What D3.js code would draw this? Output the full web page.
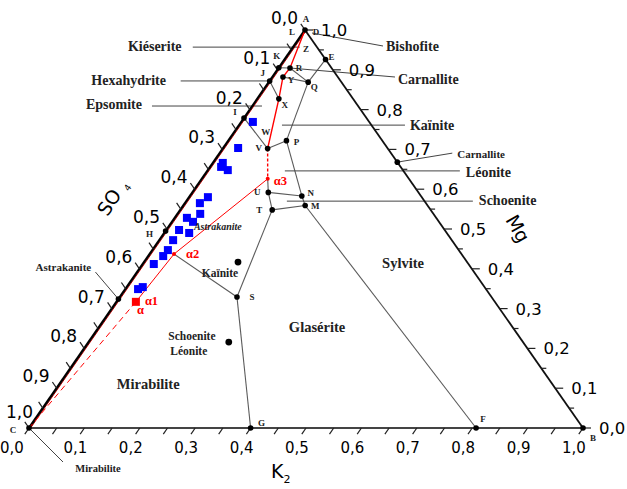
<!DOCTYPE html>
<html>
<head>
<meta charset="utf-8">
<script src="https://cdn.jsdelivr.net/npm/d3@7"></script>
<style>
  body { margin: 0; background: #fff; }
  .lbl { font-family: "Liberation Serif", serif; font-weight: bold; }
  .tick { font-family: "DejaVu Sans", sans-serif; }
</style>
</head>
<body>
<div id="chart"></div>
<script>
// Axis ticks (same labels on all three sides)
const tickValues = [0, 0.1, 0.2, 0.3, 0.4, 0.5, 0.6, 0.7, 0.8, 0.9, 1.0];
const tickLabels = ["0,0", "0,1", "0,2", "0,3", "0,4", "0,5", "0,6", "0,7", "0,8", "0,9", "1,0"];
const minorTicks = [0.05, 0.15, 0.25, 0.35, 0.45, 0.55, 0.65, 0.75, 0.85, 0.95];

// Invariant points, read as (K2, Mg) fractions
const pointNames = ["A", "K", "J", "I", "H", "E", "R", "Y", "Q", "X", "V", "P", "U", "N", "T", "M", "S", "G", "F", "C", "B"];
const pointK = [0, 0, 0, 0, 0, 0.074, 0.0205, 0.019, 0.071, 0.039, 0.081, 0.105, 0.137, 0.202, 0.166, 0.220, 0.2115, 0.40, 0.807, 0, 1];
const pointM = [1, 0.905, 0.872, 0.779, 0.495, 0.926, 0.9045, 0.882, 0.869, 0.827, 0.702, 0.722, 0.592, 0.583, 0.548, 0.559, 0.329, 0, 0, 0, 0];

// Evaporation points (red)
const alphaNames = ["α1", "α2", "α3"];
const alphaK = [0.035, 0.044, 0.119];
const alphaM = [0.317, 0.437, 0.626];

// Salt composition points
const saltNames = ["Astrakanite", "Kaïnite", "SchoeniteLéonite", "Carnallite"];
const saltK = [0, 0.1695, 0.253, 0.332];
const saltM = [0.324, 0.417, 0.216, 0.668];

// Experimental points (blue squares)
const sampleK = [0.021, 0.027, 0.018, 0.020, 0.036, 0.034, 0.027, 0.041, 0.022, 0.038, 0.023, 0.045, 0.025, 0.028, 0.027, 0.020, 0.029, 0.023];
const sampleM = [0.769, 0.7035, 0.666, 0.656, 0.648, 0.580, 0.565, 0.538, 0.528, 0.518, 0.4975, 0.490, 0.472, 0.447, 0.432, 0.412, 0.354, 0.349];

// Field boundaries
const boundaries = [["E", "Q"], ["R", "Q"], ["K", "R"], ["Y", "Q"], ["J", "X"], ["Q", "P"], ["I", "V"], ["V", "P"],
  ["P", "N"], ["N", "M"], ["M", "F"], ["N", "U"], ["M", "T"], ["U", "T"], ["T", "S"], ["S", "G"], ["S", "α2"], ["α3", "U"]];

// Crystallisation path
const pathSolid = ["A", "R", "Y", "X", "V"];
const pathDotted = ["V", "α3"];
const pathThin = ["α3", "α2", "α1"];
const pathDashed = ["α1", "C"];

// Leader-line labels and their anchor in (K2, Mg)
const leaderNames = ["Kiéserite", "Hexahydrite", "Epsomite", "Bishofite", "Carnallite", "Kaïnite", "Carnallite", "Léonite", "Schoenite", "Astrakanite", "Mirabilite"];
const leaderK = [0.012, 0, 0.0175, 0, 0.0205, 0.0775, 0.332, 0.140, 0.1815, 0, 0];
const leaderM = [0.957, 0.872, 0.809, 1, 0.9045, 0.761, 0.668, 0.646, 0.570, 0.324, 0];

// Field names
const fieldNames = ["Sylvite", "Glasérite", "Mirabilite", "Kaïnite", "Schoenite", "Léonite"];
const fieldK = [0.4686, 0.3935, 0.16, 0.151, 0.179, 0.192];
const fieldM = [0.4146, 0.2538, 0.1106, 0.389, 0.231, 0.1935];

const width = 627, height = 489;
const svg = d3.select("#chart").append("svg")
  .attr("width", width).attr("height", height);

// ternary projection (triangle is not equilateral in the picture)
const origin = { x: 29, y: 428 };
const kScale = d3.scaleLinear().domain([0, 1]).range([0, 554]);
const mRise = d3.scaleLinear().domain([0, 1]).range([0, 398]);
const mLean = d3.scaleLinear().domain([0, 1]).range([0, 276]);
const pos = (k, m) => [origin.x + kScale(k) + mLean(m), origin.y - mRise(m)];

const pts = {};
pointNames.forEach((n, i) => pts[n] = pos(pointK[i], pointM[i]));
alphaNames.forEach((n, i) => pts[n] = pos(alphaK[i], alphaM[i]));

const line = d3.line();

// boundaries
svg.append("g").selectAll("path").data(boundaries).enter().append("path")
  .attr("d", d => line(d.map(n => pts[n])))
  .attr("fill", "none").attr("stroke", "#5a5a5a").attr("stroke-width", 1.1);

// leader lines + labels
const leaderLayout = [
  { s: [0, 0], e: [-107, 0], t: [-145, 4], a: "middle", f: 14 },
  { s: [0, 0], e: [-89, 0], t: [-141, 4], a: "middle", f: 14 },
  { s: [0, 0], e: [-110, 0], t: [-148, 3], a: "middle", f: 14 },
  { s: [7, 3], e: [78, 16], t: [81, 21], a: "start", f: 14 },
  { s: [0, 0], e: [105, 9], t: [108, 16], a: "start", f: 14 },
  { s: [0, 0], e: [123, 0], t: [128, 5], a: "start", f: 14 },
  { s: [0, 0], e: [55, -9], t: [60, -4], a: "start", f: 11 },
  { s: [0, 0], e: [175, 0], t: [181, 6], a: "start", f: 14 },
  { s: [0, 0], e: [186, 0], t: [192, 4], a: "start", f: 14 },
  { s: [0, 0], e: [-23, -27], t: [-55, -28], a: "middle", f: 11 },
  { s: [0, 0], e: [34, 34], t: [69, 44], a: "middle", f: 10.5 }
];
leaderNames.forEach((name, i) => {
  const p = pos(leaderK[i], leaderM[i]);
  const L = leaderLayout[i];
  svg.append("line")
    .attr("x1", p[0] + L.s[0]).attr("y1", p[1] + L.s[1])
    .attr("x2", p[0] + L.e[0]).attr("y2", p[1] + L.e[1])
    .attr("stroke", "#444").attr("stroke-width", 1);
  svg.append("text").attr("class", "lbl")
    .attr("x", p[0] + L.t[0]).attr("y", p[1] + L.t[1])
    .attr("text-anchor", L.a).attr("font-size", L.f)
    .attr("fill", "#222").text(name);
});

// triangle edges
const A = pos(0, 1), B = pos(1, 0), C = pos(0, 0);
svg.append("line").attr("x1", C[0]).attr("y1", C[1]).attr("x2", B[0]).attr("y2", B[1])
  .attr("stroke", "#444").attr("stroke-width", 2);
svg.append("line").attr("x1", A[0]).attr("y1", A[1]).attr("x2", B[0]).attr("y2", B[1])
  .attr("stroke", "#111").attr("stroke-width", 1.8);
svg.append("line").attr("x1", C[0] + 1.6).attr("y1", C[1]).attr("x2", A[0] + 1.6).attr("y2", A[1])
  .attr("stroke", "#d00").attr("stroke-width", 1);
svg.append("line").attr("x1", C[0]).attr("y1", C[1]).attr("x2", A[0]).attr("y2", A[1])
  .attr("stroke", "#000").attr("stroke-width", 2.3);

// ticks
const allTicks = tickValues.concat(minorTicks);
const ticks = svg.append("g").attr("stroke", "#222").attr("stroke-width", 1.2);
allTicks.forEach(v => {
  const b = pos(v, 0);
  ticks.append("line").attr("x1", b[0]).attr("y1", b[1]).attr("x2", b[0] - 4.2).attr("y2", b[1] + 6.2);
  const l = pos(0, 1 - v);
  ticks.append("line").attr("x1", l[0]).attr("y1", l[1]).attr("x2", l[0] - 4.2).attr("y2", l[1] - 6.2);
  const r = pos(1 - v, v);
  const len = minorTicks.includes(v) ? 5 : 8;
  ticks.append("line").attr("x1", r[0]).attr("y1", r[1]).attr("x2", r[0] + len).attr("y2", r[1]);
});
tickValues.forEach((v, i) => {
  const b = pos(v, 0);
  svg.append("text").attr("class", "tick").attr("font-size", 15)
    .attr("x", b[0] - (i === 0 ? 17 : 9)).attr("y", b[1] + 25)
    .attr("text-anchor", "middle").text(tickLabels[i]);
  const l = pos(0, 1 - v);
  const last = i === tickValues.length - 1;
  svg.append("text").attr("class", "tick").attr("font-size", 17)
    .attr("x", last ? l[0] + 4 : l[0] - 7).attr("y", last ? l[1] - 10 : l[1] - 6)
    .attr("text-anchor", "end").text(tickLabels[i]);
  const r = pos(1 - v, v);
  svg.append("text").attr("class", "tick").attr("font-size", 16.5)
    .attr("x", r[0] + 16).attr("y", r[1] + 6)
    .attr("text-anchor", "start").text(tickLabels[i]);
});

// axis titles
svg.append("text").attr("class", "tick").attr("font-size", 19)
  .attr("transform", "translate(118,201) rotate(-57)")
  .attr("text-anchor", "middle")
  .text("SO").append("tspan").attr("font-size", 9).attr("dx", 6).attr("dy", 4).text("4");
svg.append("text").attr("class", "tick").attr("font-size", 19)
  .attr("transform", "translate(512,232) rotate(60)")
  .attr("text-anchor", "middle").text("Mg");
svg.append("text").attr("class", "tick").attr("font-size", 19)
  .attr("x", 271).attr("y", 478).text("K")
  .append("tspan").attr("font-size", 11).attr("dy", 5).text("2");

// crystallisation path
const redPath = (names, w, dash) => svg.append("path")
  .attr("d", line(names.map(n => pts[n])))
  .attr("fill", "none").attr("stroke", "#f00").attr("stroke-width", w)
  .attr("stroke-dasharray", dash);
redPath(pathSolid, 1.4, null);
redPath(pathDotted, 1.4, "3,2");
redPath(pathThin, 1, null);
redPath(pathDashed, 1, "6,4");

// field names
fieldNames.forEach((name, i) => {
  const p = pos(fieldK[i], fieldM[i]);
  svg.append("text").attr("class", "lbl")
    .attr("x", p[0]).attr("y", p[1]).attr("dy", "0.35em")
    .attr("text-anchor", "middle")
    .attr("font-size", i < 3 ? 14.5 : 11.5)
    .attr("fill", "#222").text(name);
});

// experimental points
svg.append("g").selectAll("rect").data(sampleK).enter().append("rect")
  .attr("x", (d, i) => pos(d, sampleM[i])[0] - 4)
  .attr("y", (d, i) => pos(d, sampleM[i])[1] - 4)
  .attr("width", 8).attr("height", 8).attr("fill", "#0000ff");

// italic Astrakanite label half-hidden among the squares
const astra = pos(0.088, 0.5075);
svg.append("text").attr("class", "lbl").attr("font-style", "italic")
  .attr("font-size", 10).attr("x", astra[0]).attr("y", astra[1]).attr("dy", "0.35em")
  .attr("text-anchor", "middle").attr("fill", "#222").text("Astrakanite");

// invariant point dots + letters
const pointOffsets = {
  A: [1, -8], K: [-2, -9], J: [-7, -5], I: [-9, -3], H: [-16, 6], E: [6, 1], R: [9, 3],
  Y: [8, 6], Q: [6, 8], X: [6, 9], V: [-9, 2], P: [10, 4], U: [-11, 3], N: [9, 0],
  T: [-13, 3], M: [10, 3], S: [15, 3], G: [11, -2], F: [7, -6], C: [-16, 5], B: [10, 13]
};
pointNames.forEach(n => {
  const p = pts[n];
  svg.append("circle").attr("cx", p[0]).attr("cy", p[1]).attr("r", 2.8).attr("fill", "#000");
  svg.append("text").attr("class", "lbl").attr("font-size", 9)
    .attr("x", p[0] + pointOffsets[n][0]).attr("y", p[1] + pointOffsets[n][1])
    .attr("text-anchor", "middle").attr("fill", "#222").text(n);
});
// extra letters near the apex / on the path
[["L", -13, 5], ["D", 11, 5], ["Z", 1, 22]].forEach(d => {
  svg.append("text").attr("class", "lbl").attr("font-size", 9)
    .attr("x", A[0] + d[1]).attr("y", A[1] + d[2]).attr("text-anchor", "middle").attr("fill", "#222").text(d[0]);
});
svg.append("text").attr("class", "lbl").attr("font-size", 9)
  .attr("x", pts.V[0] - 2).attr("y", pts.V[1] - 14).attr("text-anchor", "middle").attr("fill", "#222").text("W");

// salt dots
saltNames.forEach((n, i) => {
  const p = pos(saltK[i], saltM[i]);
  svg.append("circle").attr("cx", p[0]).attr("cy", p[1])
    .attr("r", (i === 1 || i === 2) ? 3.4 : 2.8).attr("fill", "#000");
});

// alpha points
["α2", "α3"].forEach(n => {
  svg.append("circle").attr("cx", pts[n][0]).attr("cy", pts[n][1]).attr("r", 2).attr("fill", "#f00");
});
svg.append("rect").attr("x", pts["α1"][0] - 4).attr("y", pts["α1"][1] - 4)
  .attr("width", 8).attr("height", 8).attr("fill", "#f00");
const alphaOffsets = { "α1": [9, 3], "α2": [12, 4], "α3": [6, 6] };
alphaNames.forEach(n => {
  svg.append("text").attr("class", "lbl").attr("font-size", 12.5).attr("fill", "#f00")
    .attr("x", pts[n][0] + alphaOffsets[n][0]).attr("y", pts[n][1] + alphaOffsets[n][1]).text(n);
});
svg.append("text").attr("class", "lbl").attr("font-size", 12.5).attr("fill", "#f00")
  .attr("x", pts["α1"][0] + 1).attr("y", pts["α1"][1] + 12).text("α");
</script>
</body>
</html>
